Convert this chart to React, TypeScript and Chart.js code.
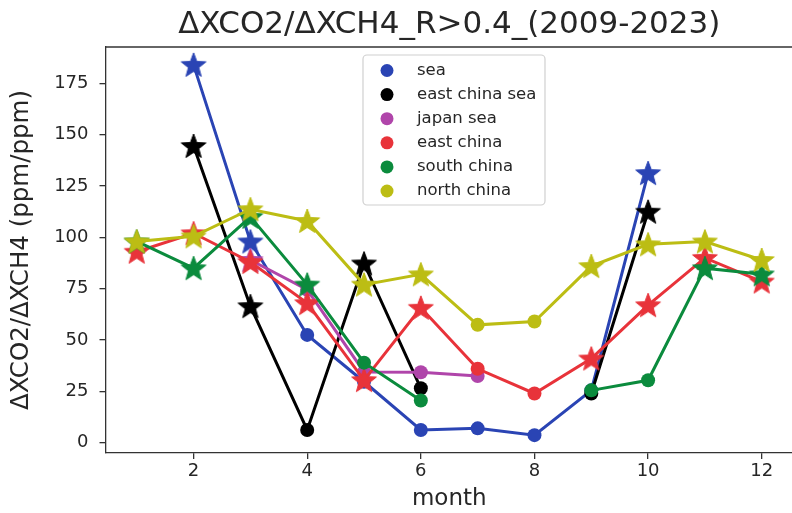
import React, { useEffect, useRef } from "react";
import { Chart, registerables } from "chart.js";

Chart.register(...registerables);

// Monthly ΔXCO2/ΔXCH4 ratios per region (null = no data that month)
const MONTHS = [1, 2, 3, 4, 5, 6, 7, 8, 9, 10, 11, 12];
const SEA = [null, 184, 98, 52.5, 29.7, 6.2, 7, 3.7, 25.5, 131.3, null, null];
const EAST_CHINA_SEA = [null, 144.5, 66.5, 6.2, 87.3, 26.5, null, null, 24, 112.5, null, null];
const JAPAN_SEA = [null, null, 89, 74.5, 34.5, 34.3, 32.5, null, null, null, null, null];
const EAST_CHINA = [93, 102, 88, 68, 30.5, 65.7, 36, 24, 41, 67, 90, 78.5];
const SOUTH_CHINA = [98, 85, 110, 77, 39, 20.6, null, null, 25.5, 30.4, 85, 82];
const NORTH_CHINA = [98, 100.5, 113.7, 108, 77, 82, 57.4, 59, 86, 96.6, 98, 89];

// Marker kind per month: "s" = star, "c" = circle
const SEA_MARKS = ["c", "s", "s", "c", "c", "c", "c", "c", "c", "s", "c", "c"];
const EAST_CHINA_SEA_MARKS = ["c", "s", "s", "c", "s", "c", "c", "c", "c", "s", "c", "c"];
const JAPAN_SEA_MARKS = ["c", "c", "s", "c", "c", "c", "c", "c", "c", "c", "c", "c"];
const EAST_CHINA_MARKS = ["s", "s", "s", "s", "s", "s", "c", "c", "s", "s", "s", "s"];
const SOUTH_CHINA_MARKS = ["s", "s", "s", "s", "c", "c", "c", "c", "c", "c", "s", "s"];
const NORTH_CHINA_MARKS = ["s", "s", "s", "s", "s", "s", "c", "c", "s", "s", "s", "s"];

const SERIES_NAMES = ["sea", "east china sea", "japan sea", "east china", "south china", "north china"];
const SERIES_COLORS = ["#2a44b4", "#000000", "#b045aa", "#e8333a", "#0b8b3d", "#bcbd14"];

const X_TICKS = [2, 4, 6, 8, 10, 12];
const Y_TICKS = [0, 25, 50, 75, 100, 125, 150, 175];

const TITLE = "ΔXCO2/ΔXCH4_R>0.4_(2009-2023)";
const X_LABEL = "month";
const Y_LABEL = "ΔXCO2/ΔXCH4 (ppm/ppm)";

const FONT = "'DejaVu Sans', sans-serif";
const TEXT_COLOR = "#262626";

function makeStar(color: string, outer = 13): HTMLCanvasElement {
  const size = Math.ceil(outer * 2 + 4);
  const c = document.createElement("canvas");
  c.width = size;
  c.height = size;
  const ctx = c.getContext("2d")!;
  const cx = size / 2;
  const cy = size / 2 + 1;
  const inner = outer * 0.42;
  ctx.beginPath();
  for (let i = 0; i < 10; i++) {
    const r = i % 2 === 0 ? outer : inner;
    const a = -Math.PI / 2 + (i * Math.PI) / 5;
    const px = cx + r * Math.cos(a);
    const py = cy + r * Math.sin(a);
    if (i === 0) ctx.moveTo(px, py);
    else ctx.lineTo(px, py);
  }
  ctx.closePath();
  ctx.fillStyle = color;
  ctx.fill();
  ctx.lineWidth = 1;
  ctx.strokeStyle = color;
  ctx.stroke();
  return c;
}

const decorPlugin = {
  id: "decor",
  afterDraw(chart: any) {
    const { ctx, chartArea } = chart;
    const { left, right, top, bottom } = chartArea;
    ctx.save();

    // top spine
    ctx.strokeStyle = "#333";
    ctx.lineWidth = 1.3;
    ctx.beginPath();
    ctx.moveTo(left, top);
    ctx.lineTo(right, top);
    ctx.stroke();

    // title
    ctx.fillStyle = TEXT_COLOR;
    ctx.textAlign = "center";
    ctx.textBaseline = "middle";
    ctx.font = `31px ${FONT}`;
    ctx.fillText(TITLE, (left + right) / 2, 25);

    // x label
    ctx.font = `23px ${FONT}`;
    ctx.fillText(X_LABEL, (left + right) / 2, 499);

    // y label
    ctx.save();
    ctx.translate(22, (top + bottom) / 2);
    ctx.rotate(-Math.PI / 2);
    ctx.font = `24.5px ${FONT}`;
    ctx.fillText(Y_LABEL, 0, 0);
    ctx.restore();

    // legend
    const bx = 363, by = 55, bw = 182, bh = 150;
    ctx.fillStyle = "rgba(255,255,255,0.85)";
    ctx.strokeStyle = "#d0d0d0";
    ctx.lineWidth = 1.2;
    ctx.beginPath();
    ctx.roundRect(bx, by, bw, bh, 4);
    ctx.fill();
    ctx.stroke();
    ctx.font = `16.5px ${FONT}`;
    ctx.textAlign = "left";
    SERIES_NAMES.forEach((name, i) => {
      const y = 70.5 + i * 24.1;
      ctx.fillStyle = SERIES_COLORS[i];
      ctx.beginPath();
      ctx.arc(387, y, 6.5, 0, Math.PI * 2);
      ctx.fill();
      ctx.fillStyle = TEXT_COLOR;
      ctx.fillText(name, 417, y);
    });

    ctx.restore();
  },
};

export default function App() {
  const ref = useRef<HTMLCanvasElement | null>(null);

  useEffect(() => {
    const canvas = ref.current;
    if (!canvas) return;

    const values = [SEA, EAST_CHINA_SEA, JAPAN_SEA, EAST_CHINA, SOUTH_CHINA, NORTH_CHINA];
    const marks = [SEA_MARKS, EAST_CHINA_SEA_MARKS, JAPAN_SEA_MARKS, EAST_CHINA_MARKS, SOUTH_CHINA_MARKS, NORTH_CHINA_MARKS];

    const datasets = values.map((vals, i) => {
      const color = SERIES_COLORS[i];
      const star = makeStar(color);
      return {
        label: SERIES_NAMES[i],
        data: MONTHS.map((m, j) => ({ x: m, y: vals[j] })),
        borderColor: color,
        backgroundColor: color,
        borderWidth: 3,
        tension: 0,
        spanGaps: false,
        pointStyle: marks[i].map((k) => (k === "s" ? star : "circle")),
        pointRadius: 7,
        pointBorderWidth: 0,
        pointBackgroundColor: color,
        order: -i,
      };
    });

    const chart = new Chart(canvas, {
      type: "line",
      data: { datasets } as any,
      options: {
        animation: false,
        responsive: false,
        devicePixelRatio: 1,
        layout: { padding: { top: 47, right: 2, left: 0, bottom: 0 } },
        plugins: {
          legend: { display: false },
          tooltip: { enabled: false },
          title: { display: false },
        },
        scales: {
          x: {
            type: "linear",
            min: 0.45,
            max: 12.55,
            afterBuildTicks: (s: any) => {
              s.ticks = X_TICKS.map((v) => ({ value: v }));
            },
            afterFit: (s: any) => {
              s.height = 60;
            },
            grid: { display: true, drawOnChartArea: false, drawTicks: true, tickLength: 6, color: "#333", lineWidth: 1.3 },
            border: { display: true, color: "#333", width: 1.3 },
            ticks: { color: TEXT_COLOR, font: { family: FONT, size: 18 }, padding: 2, maxRotation: 0 },
          },
          y: {
            type: "linear",
            min: -5.0,
            max: 192.7,
            afterBuildTicks: (s: any) => {
              s.ticks = Y_TICKS.map((v) => ({ value: v }));
            },
            afterFit: (s: any) => {
              s.width = 105.5;
            },
            grid: { display: true, drawOnChartArea: false, drawTicks: true, tickLength: 6, color: "#333", lineWidth: 1.3 },
            border: { display: true, color: "#333", width: 1.3 },
            ticks: { color: TEXT_COLOR, font: { family: FONT, size: 18 }, padding: 11 },
          },
        },
      } as any,
      plugins: [decorPlugin],
    });

    return () => chart.destroy();
  }, []);

  return (
    <div style={{ position: "absolute", left: 0, top: 0, width: 792, height: 513, overflow: "hidden", background: "#fff" }}>
      <canvas ref={ref} width={800} height={513} style={{ width: 800, height: 513, display: "block" }} />
    </div>
  );
}
